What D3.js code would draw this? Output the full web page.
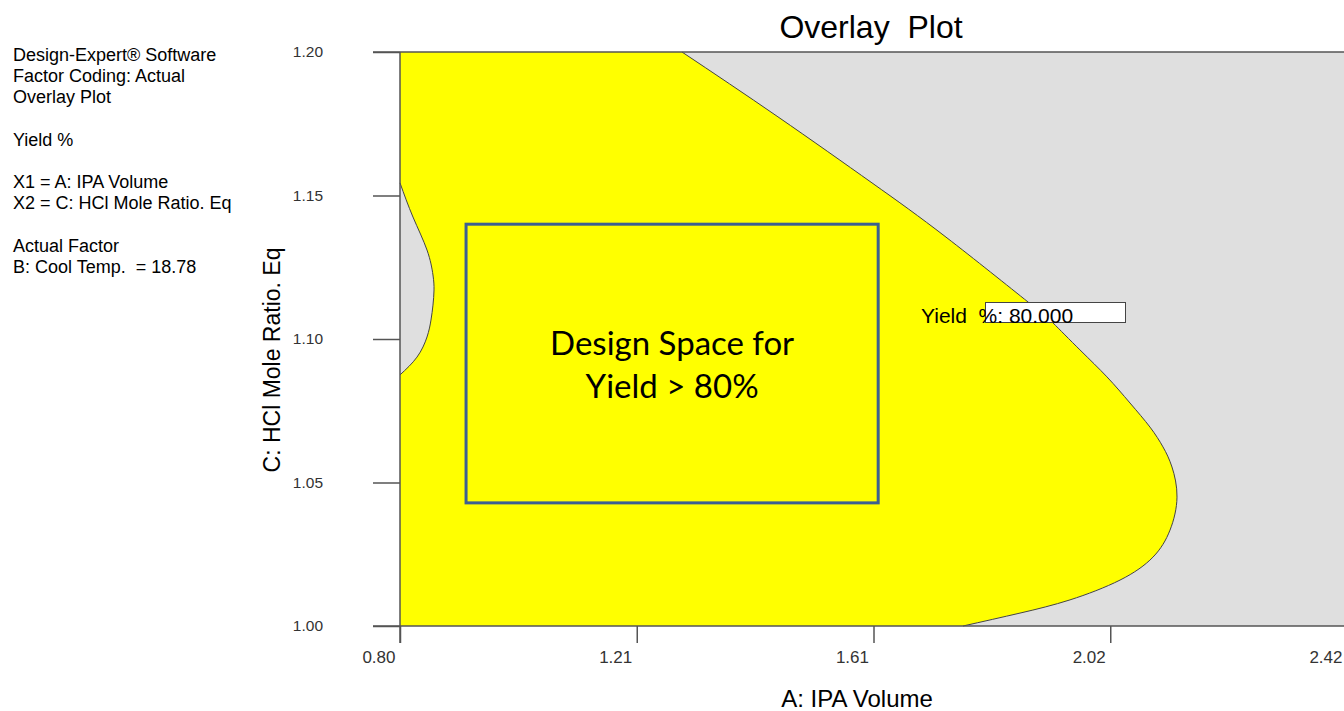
<!DOCTYPE html>
<html>
<head>
<meta charset="utf-8">
<script src="https://cdn.jsdelivr.net/npm/d3@7"></script>
<style>
  html, body { margin: 0; padding: 0; background: #fff; }
  svg { display: block; }
  text { white-space: pre; }
</style>
</head>
<body>
<svg id="chart" width="1344" height="711"></svg>
<script>
// ---- data ----
const xDomain = [0.80, 2.42];
const yDomain = [1.00, 1.20];
const xTickValues = [0.80, 1.205, 1.61, 2.015, 2.42];
const xTickLabels = ["0.80", "1.21", "1.61", "2.02", "2.42"];
const yTickValues = [1.00, 1.05, 1.10, 1.15, 1.20];
const yTickLabels = ["1.00", "1.05", "1.10", "1.15", "1.20"];

// Yield = 80 contour, right boundary (x = IPA Volume, y = HCl ratio), top to bottom
const contourRightX = [1.2824, 1.4466, 1.6074, 1.7340, 1.8743, 1.9171, 1.9632, 2.0094, 2.0488, 2.0830, 2.1052, 2.1206, 2.1292, 2.1172, 2.0881, 2.0317, 1.9461, 1.8606, 1.7631];
const contourRightY = [1.2000, 1.1774, 1.1544, 1.1355, 1.1129, 1.1056, 1.0962, 1.0868, 1.0777, 1.0693, 1.0624, 1.0554, 1.0449, 1.0334, 1.0240, 1.0160, 1.0091, 1.0045, 1.0000];
// Yield = 80 contour, left lobe, top to bottom
const contourLeftX = [0.800, 0.8222, 0.8462, 0.8564, 0.8582, 0.8564, 0.8530, 0.8462, 0.8291, 0.800];
const contourLeftY = [1.1544, 1.1425, 1.1310, 1.1223, 1.1171, 1.1118, 1.1066, 1.1007, 1.0937, 1.0875];

// Design space rectangle [x0, x1], [y0, y1]
const designSpaceX = [0.913, 1.618];
const designSpaceY = [1.0429, 1.140];
const designSpaceText = ["Design Space for", "Yield > 80%"];

// Flag label
const flagText = "Yield  %: 80.000";

const infoLines = ["Design-Expert\u00AE Software", "Factor Coding: Actual", "Overlay Plot", "", "Yield %", "", "X1 = A: IPA Volume", "X2 = C: HCl Mole Ratio. Eq", "", "Actual Factor", "B: Cool Temp.  = 18.78"];

// ---- drawing ----
const FONT = "'Liberation Sans', Arial, sans-serif";
const svg = d3.select("#chart");
const x = d3.scaleLinear().domain(xDomain).range([400, 1347]);
const y = d3.scaleLinear().domain(yDomain).range([626, 52]);

const plot = svg.append("g");

// grey background
plot.append("rect")
  .attr("x", x(xDomain[0])).attr("y", y(yDomain[1]))
  .attr("width", x(xDomain[1]) - x(xDomain[0]))
  .attr("height", y(yDomain[0]) - y(yDomain[1]))
  .attr("fill", "#dfdfdf");

const right = contourRightX.map((v, i) => [v, contourRightY[i]]);
const left = contourLeftX.map((v, i) => [v, contourLeftY[i]]);
const curve = d3.line().x(d => x(d[0])).y(d => y(d[1])).curve(d3.curveNatural);

// yellow region
const rightPath = curve(right).replace(/^M/, "L");
const yellowD = "M" + x(xDomain[0]) + "," + y(yDomain[1]) + rightPath +
  "L" + x(xDomain[0]) + "," + y(yDomain[0]) + "Z";
plot.append("path").attr("d", yellowD).attr("fill", "#ffff00");

// left grey lobe
plot.append("path").attr("d", curve(left) + "Z").attr("fill", "#dfdfdf");

// contour strokes
plot.append("path").attr("d", curve(right)).attr("fill", "none").attr("stroke", "#444").attr("stroke-width", 1);
plot.append("path").attr("d", curve(left)).attr("fill", "none").attr("stroke", "#444").attr("stroke-width", 1);

// axes
const yAxis = d3.axisLeft(y).tickValues(yTickValues).tickSize(27).tickSizeOuter(0)
  .tickFormat((d, i) => yTickLabels[i]).tickPadding(50);
const gy = svg.append("g").attr("transform", `translate(${x(xDomain[0])},0)`).call(yAxis);
gy.select(".domain").remove();
gy.selectAll(".tick line").attr("stroke", "#555").attr("stroke-width", 1.5);
gy.selectAll(".tick text").attr("font-family", FONT).attr("font-size", 15.5).attr("fill", "#333");

const xAxis = d3.axisBottom(x).tickValues(xTickValues).tickSize(17).tickSizeOuter(0)
  .tickFormat((d, i) => xTickLabels[i]);
const gx = svg.append("g").attr("transform", `translate(0,${y(yDomain[0])})`).call(xAxis);
gx.select(".domain").remove();
gx.selectAll(".tick line").attr("stroke", "#555").attr("stroke-width", 1.5);
gx.selectAll(".tick text").attr("font-family", FONT).attr("font-size", 17)
  .attr("fill", "#333").attr("text-anchor", "end").attr("dx", -5).attr("y", 37).attr("dy", 0);

// plot frame lines (top, bottom, left)
svg.append("line").attr("x1", 373).attr("x2", x(xDomain[1])).attr("y1", y(yDomain[1])).attr("y2", y(yDomain[1])).attr("stroke", "#555").attr("stroke-width", 1.5);
svg.append("line").attr("x1", 373).attr("x2", x(xDomain[1])).attr("y1", y(yDomain[0])).attr("y2", y(yDomain[0])).attr("stroke", "#555").attr("stroke-width", 1.5);
svg.append("line").attr("x1", x(xDomain[0])).attr("x2", x(xDomain[0])).attr("y1", y(yDomain[1])).attr("y2", y(yDomain[0]) + 17).attr("stroke", "#555").attr("stroke-width", 1.5);

// design space box
svg.append("rect")
  .attr("x", x(designSpaceX[0])).attr("y", y(designSpaceY[1]))
  .attr("width", x(designSpaceX[1]) - x(designSpaceX[0]))
  .attr("height", y(designSpaceY[0]) - y(designSpaceY[1]))
  .attr("fill", "none").attr("stroke", "#3c5f91").attr("stroke-width", 3);
const cx = (x(designSpaceX[0]) + x(designSpaceX[1])) / 2;
designSpaceText.forEach((t, i) => {
  svg.append("text").attr("x", cx).attr("y", 355 + i * 43)
    .attr("text-anchor", "middle").attr("font-family", "Lato, sans-serif").attr("font-size", 33)
    .attr("fill", "#000").text(t);
});

// flag label
svg.append("rect").attr("x", 985.5).attr("y", 302.5).attr("width", 140).attr("height", 20)
  .attr("fill", "#fff").attr("stroke", "#444").attr("stroke-width", 1);
svg.append("text").attr("x", 921).attr("y", 323)
  .attr("font-family", FONT).attr("font-size", 21).attr("fill", "#000")
  .text(flagText);

// title
svg.append("text").attr("x", 871).attr("y", 38).attr("text-anchor", "middle")
  .attr("font-family", FONT).attr("font-size", 32).attr("fill", "#000")
  .text("Overlay  Plot");

// axis titles
svg.append("text").attr("x", 857).attr("y", 707).attr("text-anchor", "middle")
  .attr("font-family", FONT).attr("font-size", 24).attr("fill", "#000")
  .text("A: IPA Volume");
svg.append("text").attr("transform", "translate(280,360) rotate(-90)").attr("text-anchor", "middle")
  .attr("font-family", FONT).attr("font-size", 23).attr("fill", "#000")
  .text("C: HCl Mole Ratio. Eq");

// info text
infoLines.forEach((t, i) => {
  svg.append("text").attr("x", 13).attr("y", 61 + i * 21.2)
    .attr("font-family", FONT).attr("font-size", 18).attr("fill", "#000")
    .text(t);
});
</script>
</body>
</html>
